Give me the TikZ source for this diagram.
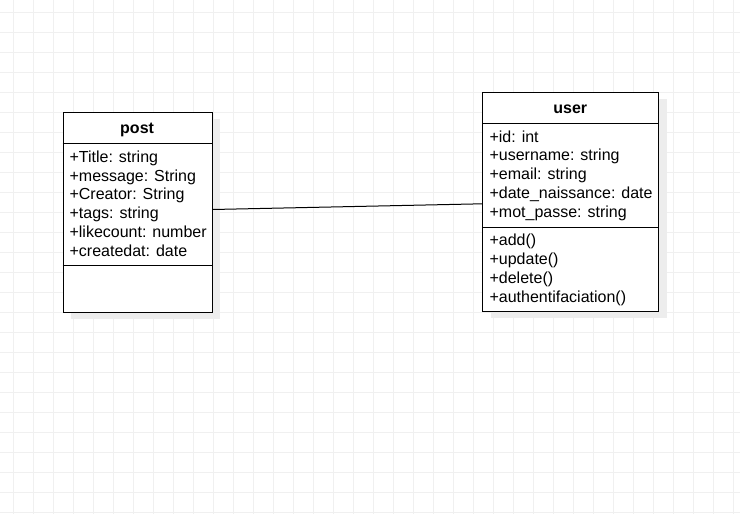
\documentclass[tikz,border=0pt]{standalone}
\usepackage{fontspec}
\setmainfont{Liberation Sans}
\usetikzlibrary{shadows}
\begin{document}
\begin{tikzpicture}[x=1pt,y=-1pt,
  gridline/.style={draw=black!6, line width=1pt},
  classbox/.style={draw=black, line width=1pt, fill=white, inner sep=0pt,
    anchor=north west,
    drop shadow={shadow xshift=8pt, shadow yshift=-7pt, fill=black!7, opacity=1}},
  sepline/.style={draw=black, line width=1pt},
  member/.style={anchor=base west, inner sep=0pt, font=\fontsize{16}{19}\selectfont},
  classtitle/.style={anchor=base, inner sep=0pt, font=\fontsize{16}{19}\selectfont\bfseries},
  assoc/.style={draw=black, line width=1pt}]
  % canvas and background grid
  \fill[white] (0,0) rectangle (740,514);
  \useasboundingbox (0,0) rectangle (740,514);
  \foreach \gx in {0,...,36} \draw[gridline] (13.3+20*\gx,0) -- (13.3+20*\gx,514);
  \foreach \gy in {0,...,25} \draw[gridline] (0,12.5+20*\gy) -- (740,12.5+20*\gy);

  % class post
  \node[classbox, minimum width=149.2pt, minimum height=200pt] (post) at (62.5,111.7) {};
  \draw[sepline] (post.west |- 0,143.3) -- (post.east |- 0,143.3);
  \draw[sepline] (post.west |- 0,265.7) -- (post.east |- 0,265.7);
  \node[classtitle] (posttitle) at (137.1,133.5) {post};
  \node[member] (p1) at (69.4,162.3) {+Title: string};
  \node[member] (p2) at (69.4,181.1) {+message: String};
  \node[member] (p3) at (69.4,199.9) {+Creator: String};
  \node[member] (p4) at (69.4,218.7) {+tags: string};
  \node[member] (p5) at (69.4,237.5) {+likecount: number};
  \node[member] (p6) at (69.4,256.3) {+createdat: date};

  % class user
  \node[classbox, minimum width=176pt, minimum height=219pt] (user) at (482.3,91.7) {};
  \draw[sepline] (user.west |- 0,123.3) -- (user.east |- 0,123.3);
  \draw[sepline] (user.west |- 0,227.3) -- (user.east |- 0,227.3);
  \node[classtitle] (usertitle) at (570.3,113.3) {user};
  \node[member] (u1) at (489.4,142.2) {+id: int};
  \node[member] (u2) at (489.4,160.95) {+username: string};
  \node[member] (u3) at (489.4,179.7) {+email: string};
  \node[member] (u4) at (489.4,198.45) {+date\_naissance: date};
  \node[member] (u5) at (489.4,217.2) {+mot\_passe: string};
  \node[member] (m1) at (489.4,245.5) {+add()};
  \node[member] (m2) at (489.4,264.4) {+update()};
  \node[member] (m3) at (489.4,283.3) {+delete()};
  \node[member] (m4) at (489.4,302.2) {+authentifaciation()};

  % association
  \draw[assoc] ([yshift=2.7pt]post.east) -- ([yshift=-2.1pt]user.west);
\end{tikzpicture}
\end{document}
